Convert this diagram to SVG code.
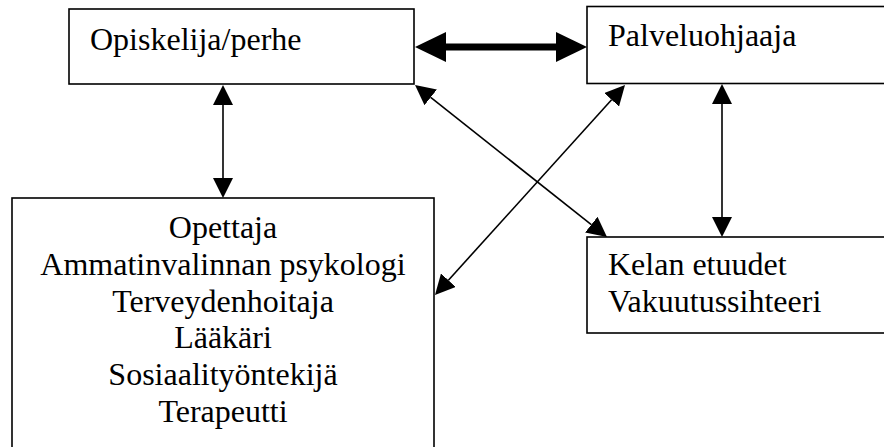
<svg xmlns="http://www.w3.org/2000/svg" width="884" height="447" viewBox="0 0 884 447">
<style>
.box{fill:#fff;stroke:#000;stroke-width:1.6}
.t{font-family:"Liberation Serif","Times New Roman",serif;font-size:32px;fill:#000}
.c{text-anchor:middle}
.thin{stroke:#000;stroke-width:1.6;fill:none;marker-start:url(#ah);marker-end:url(#ah)}
.thick{stroke:#000;stroke-width:7;fill:none;marker-start:url(#ahb);marker-end:url(#ahb)}
</style>
<defs>
<marker id="ah" markerUnits="userSpaceOnUse" viewBox="0 0 20 20" refX="0" refY="10" markerWidth="20" markerHeight="20" orient="auto-start-reverse"><path d="M0,0 L20,10 L0,20 z" fill="#000"/></marker>
<marker id="ahb" markerUnits="userSpaceOnUse" viewBox="0 0 31 30" refX="0" refY="15" markerWidth="31" markerHeight="30" orient="auto-start-reverse"><path d="M0,0 L31,15 L0,30 z" fill="#000"/></marker>
</defs>
<rect width="884" height="447" fill="#fff"/>
<g id="opiskelija">
<rect class="box" x="69" y="9" width="345" height="75"/>
<text class="t" x="90" y="50">Opiskelija/perhe</text>
</g>
<g id="palveluohjaaja">
<rect class="box" x="587" y="6.5" width="310" height="77"/>
<text class="t" x="608" y="46">Palveluohjaaja</text>
</g>
<g id="ammattilaiset">
<rect class="box" x="12" y="198" width="422" height="260"/>
<text class="t c" x="223" y="238">Opettaja</text>
<text class="t c" x="223" y="275">Ammatinvalinnan psykologi</text>
<text class="t c" x="223" y="312">Terveydenhoitaja</text>
<text class="t c" x="223" y="348">Lääkäri</text>
<text class="t c" x="223" y="385">Sosiaalityöntekijä</text>
<text class="t c" x="223" y="422">Terapeutti</text>
</g>
<g id="kela">
<rect class="box" x="587" y="237" width="310" height="96"/>
<text class="t" x="608" y="275">Kelan etuudet</text>
<text class="t" x="608" y="312">Vakuutussihteeri</text>
</g>
<g id="connectors">
<line class="thick" x1="446" y1="47" x2="556" y2="47"/>
<line class="thin" x1="223" y1="105" x2="223" y2="178"/>
<line class="thin" x1="722" y1="104" x2="722" y2="217"/>
<line class="thin" x1="430.7" y1="97.4" x2="591.3" y2="224.6"/>
<line class="thin" x1="611.6" y1="99.8" x2="448.4" y2="280.2"/>
</g>
</svg>
